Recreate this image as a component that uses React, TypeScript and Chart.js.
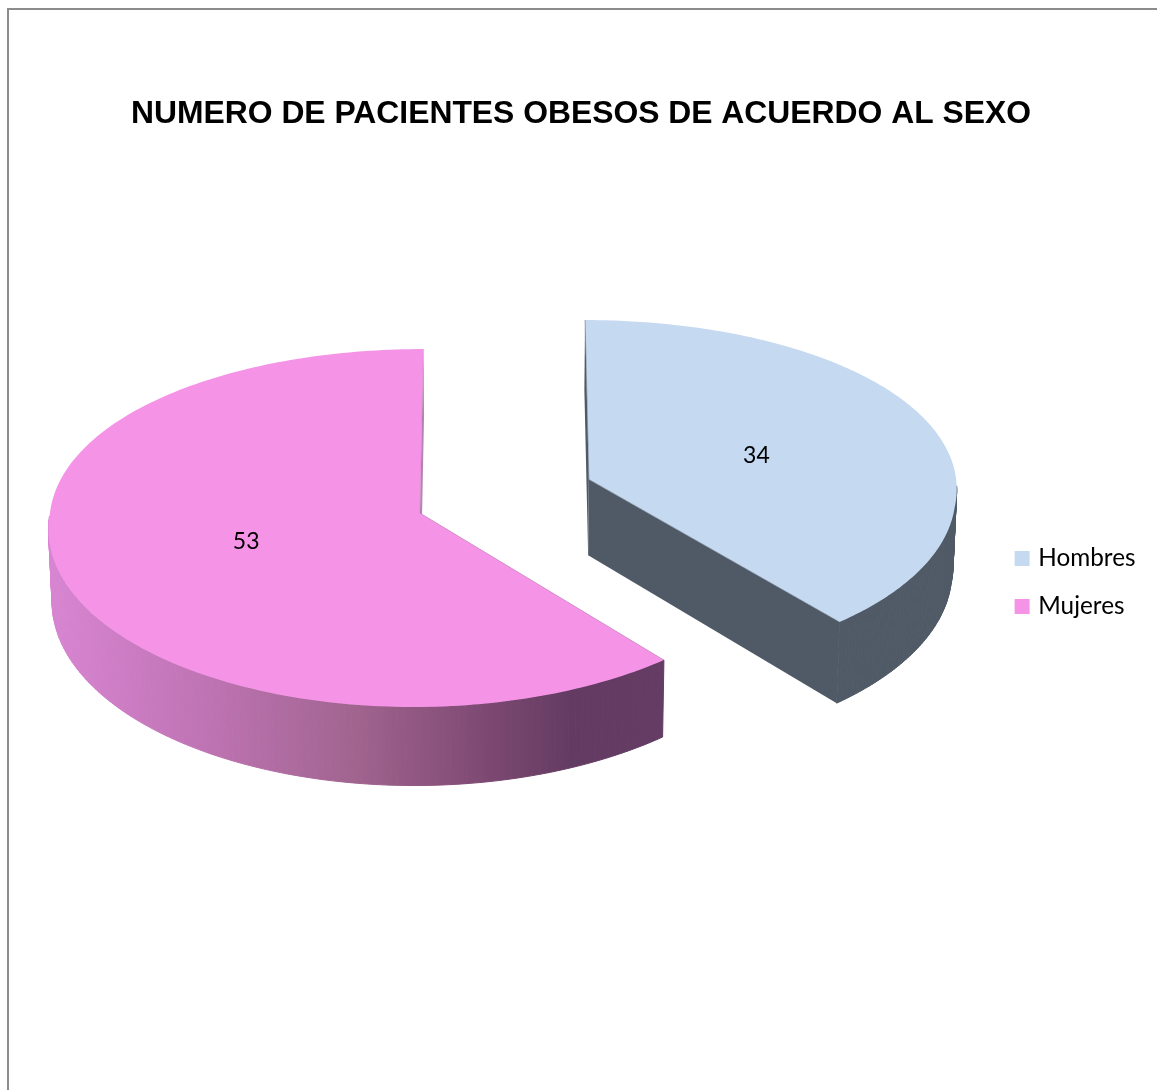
import React, { useEffect, useRef } from "react";
import { Chart, registerables } from "chart.js";

Chart.register(...registerables);

const categories = ["Hombres", "Mujeres"];
const patients = [34, 53];
const titleText = "NUMERO DE PACIENTES OBESOS DE ACUERDO AL SEXO";
const faceColors = ["#c5d9f1", "#f594e7"];
const explode = [180, 0];

// Colour stops of the outer wall of each slice, left to right.
const wallStops = [
  [[0, "#4f5a66"], [1, "#4f5a66"]],
  [[0, "#d885d2"], [0.25, "#bf74b4"], [0.5, "#a0648f"], [0.7, "#7f4a74"], [0.85, "#633b62"], [1, "#653c64"]],
];
const cutColors = ["#4f5a66", "#b684b4"];
const edgeColors = ["rgba(79,90,102,0.5)", "rgba(120,80,120,0.2)"];

// Perspective view of the tilted disc.
const view = {
  x0: 420,
  y0: 513,
  r: 370,
  tilt: 177.7,
  persp: 0.0838,
  perspFront: 0.075,
  perspBack: 0.045,
  vanishX: 500,
  depth: 72,
  wallShrink: 0.992,
  liftPerOffset: 0.0276,
  wallFrom: 0.03,
};

function project(X: number, v: number, z: number, wall: boolean) {
  const k = 1 / (1 - view.persp * v);
  const kx = 1 / (1 - (v < 0 ? view.perspBack : view.perspFront) * v);
  return {
    x: view.vanishX + (X - view.vanishX) * kx * (wall ? view.wallShrink : 1),
    y: view.y0 + view.tilt * v * k + z * k,
  };
}

const pie3d = {
  id: "pie3d",
  beforeDraw(chart: any) {
    const { ctx } = chart;
    ctx.save();
    ctx.fillStyle = "#8c8c8c";
    ctx.fillRect(7, 8, 1150, 2);
    ctx.fillRect(7, 8, 2, 1082);
    ctx.restore();
  },
  beforeDatasetDraw(chart: any, args: any) {
    const { ctx } = chart;
    const meta = args.meta;
    const values = chart.data.datasets[args.index].data;
    meta.data.forEach((arc: any, i: number) => {
      const a0 = arc.startAngle + Math.PI / 2;
      const a1 = arc.endAngle + Math.PI / 2;
      const mid = (a0 + a1) / 2;
      const off = arc.options.offset || 0;
      const cx = view.x0 + off * Math.sin(mid);
      const cv = (-off * Math.cos(mid)) / view.r;
      const lift = -off * view.liftPerOffset;
      const onTop = (theta: number, rad: number, z = lift) =>
        project(cx + view.r * rad * Math.sin(theta), cv - rad * Math.cos(theta), z, false);
      const onBase = (theta: number, rad: number) =>
        project(cx + view.r * rad * Math.sin(theta), cv - rad * Math.cos(theta), view.depth, true);

      const rim: number[] = [];
      const steps = 200;
      for (let s = 0; s <= steps; s++) rim.push(a0 + ((a1 - a0) * s) / steps);

      const trace = (pts: { x: number; y: number }[]) => {
        ctx.beginPath();
        pts.forEach((p, n) => (n ? ctx.lineTo(p.x, p.y) : ctx.moveTo(p.x, p.y)));
        ctx.closePath();
      };

      const top = rim.map((t) => onTop(t, 1));
      const bottom = rim.map((t) => onBase(t, 1));
      const apexTop = onTop(0, 0);
      const apexBottom = onBase(0, 0);
      const xs = top.map((p) => p.x);
      const grad = ctx.createLinearGradient(Math.min(...xs), 0, Math.max(...xs), 0);
      wallStops[i].forEach(([o, c]) => grad.addColorStop(o as number, c as string));

      ctx.save();
      // Cut faces, then the outer wall; the top face hides what lies behind it.
      ctx.fillStyle = cutColors[i];
      [0, steps].forEach((s) => {
        trace([apexTop, top[s], bottom[s], apexBottom]);
        ctx.fill();
      });
      // The wall is painted quad by quad so its fold at the silhouette stays filled.
      ctx.fillStyle = grad;
      ctx.strokeStyle = grad;
      ctx.lineWidth = 1;
      for (let s = 0; s < steps; s++) {
        if (-Math.cos(rim[s]) < view.wallFrom) continue;
        trace([top[s], top[s + 1], bottom[s + 1], bottom[s]]);
        ctx.fill();
        ctx.stroke();
      }

      ctx.fillStyle = arc.options.backgroundColor;
      trace([apexTop, ...top]);
      ctx.fill();
      ctx.strokeStyle = edgeColors[i];
      ctx.lineWidth = 1;
      ctx.beginPath();
      ctx.moveTo(top[0].x, top[0].y);
      ctx.lineTo(apexTop.x, apexTop.y);
      ctx.lineTo(top[steps].x, top[steps].y);
      ctx.stroke();

      // Value in the middle of the slice.
      const label = onTop(mid, 0.49, 0);
      ctx.fillStyle = "#000";
      ctx.font = "23px Lato";
      ctx.textAlign = "center";
      ctx.textBaseline = "middle";
      ctx.fillText(String(values[i]), label.x, label.y - 1);
      ctx.restore();
    });
    return false;
  },
};

export default function App() {
  const ref = useRef<HTMLCanvasElement>(null);
  useEffect(() => {
    const chart = new Chart(ref.current!, {
      type: "pie",
      data: {
        labels: categories,
        datasets: [
          { data: patients, backgroundColor: faceColors, borderColor: faceColors, borderWidth: 0, offset: explode },
        ],
      },
      options: {
        responsive: false,
        animation: false,
        events: [],
        layout: { padding: { left: 16.5, top: 85, right: 11.5, bottom: 10 } },
        plugins: {
          title: {
            display: true,
            text: titleText,
            color: "#000",
            font: { family: "'Liberation Sans'", size: 31.85, weight: "bold" },
            padding: { top: 10, bottom: 0 },
          },
          legend: {
            position: "right",
            labels: {
              boxWidth: 8,
              boxHeight: 8,
              padding: 23.5,
              color: "#000",
              font: { family: "Lato", size: 24.3 },
              // A small box with a thick outline keeps the text close to the swatch.
              generateLabels: (c: any) =>
                (Chart as any).overrides.pie.plugins.legend.labels
                  .generateLabels(c)
                  .map((item: any) => ({ ...item, lineWidth: 7 })),
            },
          },
          tooltip: { enabled: false },
        },
      },
      plugins: [pie3d],
    } as any);
    return () => chart.destroy();
  }, []);
  return (
    <canvas
      ref={ref}
      width={1157}
      height={1090}
      style={{ position: "absolute", left: 0, top: 0, display: "block" }}
    />
  );
}
